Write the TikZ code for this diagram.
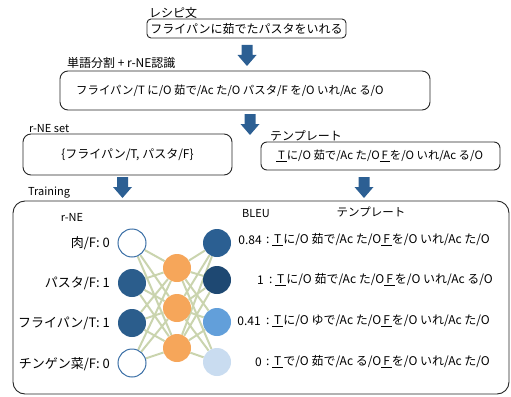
\documentclass[tikz,border=0pt]{standalone}
\usepackage{fontspec}
\setmainfont{Noto Sans CJK JP}
\usetikzlibrary{backgrounds}
\definecolor{arrowblue}{HTML}{2C5F93}
\definecolor{edgegreen}{HTML}{CAD4AE}
\definecolor{nodeblue}{HTML}{2B5D8C}
\definecolor{ringblue}{HTML}{3B6FA6}
\definecolor{rone}{HTML}{2B5F92}
\definecolor{rtwo}{HTML}{1E4872}
\definecolor{rthree}{HTML}{629FDA}
\definecolor{rfour}{HTML}{C9DCF0}
\definecolor{midorange}{HTML}{F6A65A}
\newcommand{\ulx}[1]{\underline{\,#1\,}}
\tikzset{
  every node/.style={inner sep=0pt, font=\fontsize{11}{13}\selectfont},
  bigfont/.style={font=\fontsize{12}{14}\selectfont},
  segfont/.style={font=\fontsize{11.4}{14}\selectfont},
  midfont/.style={font=\fontsize{11.5}{14}\selectfont},
  rowfont/.style={font=\fontsize{12}{14}\selectfont},
  labfont/.style={font=\fontsize{13}{16}\selectfont},
  boxstyle/.style={draw=black!85, line width=0.9pt},
  neuron/.style={circle, minimum size=28pt, inner sep=0pt},
  wire/.style={edgegreen, line width=2pt},
  blockarr/.pic={\fill[arrowblue] (-5.5,0) -- (5.5,0) -- (5.5,10) -- (9.5,10) -- (0,21) -- (-9.5,10) -- (-5.5,10) -- cycle;}
}
\begin{document}
\begin{tikzpicture}[x=1pt,y=-1pt]
\useasboundingbox (0,0) rectangle (511,396);
% top
\node[bigfont, anchor=west] (lblrecipe) at (149,13) {レシピ文};
\node[bigfont, boxstyle, rounded corners=4pt, minimum width=199pt, minimum height=19pt] (recipe) at (246.5,28.5) {フライパンに茹でたパスタをいれる};
\pic at (247,45) {blockarr};
\node[bigfont, anchor=west] (lblseg) at (67,63) {単語分割 + r-NE認識};
\node[boxstyle, rounded corners=8pt, minimum width=370pt, minimum height=39pt] (seg) at (245,90.5) {};
\node[segfont, anchor=west] (segtext) at (76,90.5) {フライパン/T に/O 茹で/Ac た/O パスタ/F を/O いれ/Ac る/O};
\pic at (250,114) {blockarr};
\node[anchor=west] (lblset) at (29,129) {r-NE set};
\node[bigfont, boxstyle, rounded corners=8pt, minimum width=209pt, minimum height=41pt] (set) at (127.5,154.5) {\{フライパン/T, パスタ/F\}};
\node[bigfont, anchor=west] (lbltpl) at (270,136) {テンプレート};
\node[boxstyle, rounded corners=6pt, minimum width=239pt, minimum height=28pt] (tpl) at (380.5,156) {};
\node[segfont, anchor=west] (tpltext) at (276,156) {\ulx{T}に/O 茹で/Ac た/O\ulx{F}を/O いれ/Ac る/O};
\pic at (122.5,177) {blockarr};
\pic at (364,177) {blockarr};
\node[anchor=west] (lbltrain) at (28,193) {Training};
% big box
\node[boxstyle, rounded corners=12pt, minimum width=496pt, minimum height=193pt] (train) at (261,297.5) {};
\node (hdrrne) at (72,217) {r-NE};
\node[anchor=west] (hdrbleu) at (242,214) {BLEU};
\node[midfont] (hdrtpl) at (371,212) {テンプレート};
% network
\node[neuron, fill=white, draw=ringblue, line width=1pt] (L1) at (132,243) {};
\node[neuron, fill=nodeblue] (L2) at (132,283) {};
\node[neuron, fill=nodeblue] (L3) at (132,323) {};
\node[neuron, fill=white, draw=ringblue, line width=1pt] (L4) at (132,363) {};
\node[neuron, fill=midorange] (M1) at (177,268) {};
\node[neuron, fill=midorange] (M2) at (177,308) {};
\node[neuron, fill=midorange] (M3) at (177,348) {};
\node[neuron, fill=rone] (R1) at (217,243) {};
\node[neuron, fill=rtwo] (R2) at (217,280) {};
\node[neuron, fill=rthree] (R3) at (217,322) {};
\node[neuron, fill=rfour] (R4) at (217,362) {};
\begin{scope}[on background layer]
\foreach \l in {L1,L2,L3,L4}{\foreach \m in {M1,M2,M3}{\draw[wire] (\l) -- (\m);}}
\foreach \m in {M1,M2,M3}{\foreach \r in {R1,R2,R3,R4}{\draw[wire] (\m) -- (\r);}}
\end{scope}
% left labels
\node[labfont, anchor=east] (in1) at (110,243) {肉/F: 0};
\node[labfont, anchor=east] (in2) at (110,283) {パスタ/F: 1};
\node[labfont, anchor=east] (in3) at (110,323) {フライパン/T: 1};
\node[labfont, anchor=east] (in4) at (110,364) {チンゲン菜/F: 0};
% bleu and templates
\node[rowfont, anchor=east] (b1) at (262,240) {0.84};
\node[rowfont, anchor=east] (b2) at (264,280) {1};
\node[rowfont, anchor=east] (b3) at (261,321) {0.41};
\node[rowfont, anchor=east] (b4) at (262,362) {0};
\node[rowfont, anchor=west] (t1) at (266,240) {:\ \ulx{T}に/O 茹で/Ac た/O\ulx{F}を/O いれ/Ac た/O};
\node[rowfont, anchor=west] (t2) at (269,280) {:\ \ulx{T}に/O 茹で/Ac た/O\ulx{F}を/O いれ/Ac る/O};
\node[rowfont, anchor=west] (t3) at (266,321) {:\ \ulx{T}に/O ゆで/Ac た/O\ulx{F}を/O いれ/Ac た/O};
\node[rowfont, anchor=west] (t4) at (266,362) {:\ \ulx{T}で/O 茹で/Ac る/O\ulx{F}を/O いれ/Ac た/O};
\end{tikzpicture}
\end{document}
